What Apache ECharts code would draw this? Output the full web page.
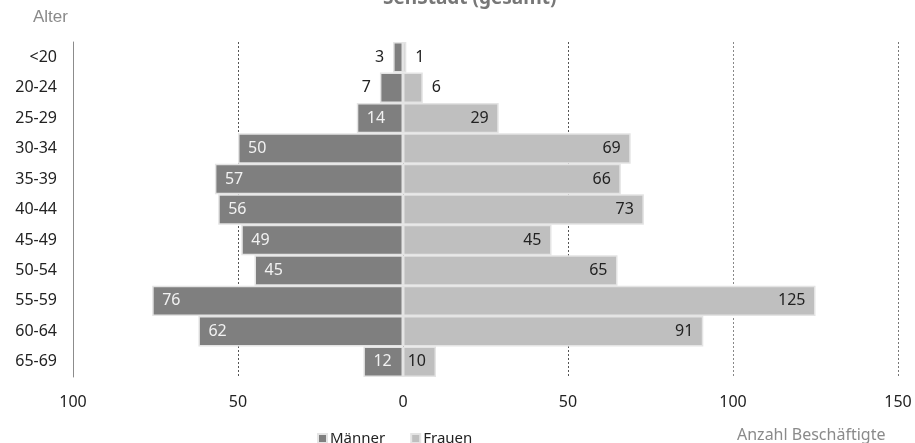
<!DOCTYPE html>
<html>
<head>
<meta charset="utf-8">
<script src="https://cdn.jsdelivr.net/npm/echarts@6/dist/echarts.min.js"></script>
<style>
  html, body { margin: 0; padding: 0; background: #fff; }
  #chart { width: 915px; height: 443px; }
</style>
</head>
<body>
<div id="chart"></div>
<script>
// Age groups of the staff, top to bottom
const ageGroups = ['<20', '20-24', '25-29', '30-34', '35-39', '40-44', '45-49', '50-54', '55-59', '60-64', '65-69'];
// Headcount per age group
const men   = [3, 7, 14, 50, 57, 56, 49, 45, 76, 62, 12];
const women = [1, 6, 29, 69, 66, 73, 45, 65, 125, 91, 10];
// Value axis ticks (men drawn to the left as negative values)
const axisMin = -100;
const axisMax = 150;
const axisStep = 50;

// Bars narrower than this value get their label outside the bar
const minInside = 9;

const font = 'Noto Sans';

function menItem(v) {
  const inside = v >= minInside;
  return {
    value: -v,
    label: inside
      ? { position: 'insideLeft', distance: 10, color: '#f2f2f2' }
      : { position: 'left', distance: 9, color: '#222' }
  };
}
function womenItem(v) {
  const inside = v >= minInside;
  return {
    value: v,
    label: inside
      ? { position: 'insideRight', distance: 10, color: '#222' }
      : { position: 'right', distance: 9, color: '#222' }
  };
}

const chart = echarts.init(document.getElementById('chart'), null, { renderer: 'canvas' });

chart.setOption({
  animation: false,
  textStyle: { fontFamily: font },
  graphic: [
    {
      type: 'text', left: 383, top: -11,
      style: { text: 'SenStadt (gesamt)', font: 'bold 19px "Noto Sans"', fill: '#777' }
    },
    {
      type: 'text', left: 33, top: 9,
      style: { text: 'Alter', font: '17px "Liberation Sans"', fill: '#8a8a8a' }
    },
    {
      type: 'text', left: 737, top: 427,
      style: { text: 'Anzahl Beschäftigte', font: '16px "Noto Sans"', fill: '#8a8a8a' }
    }
  ],
  legend: {
    left: 312,
    top: 426,
    itemWidth: 9,
    itemHeight: 9,
    itemGap: 25,
    icon: 'rect',
    textStyle: { fontSize: 15, color: '#222', fontFamily: font, padding: [0, 0, 0, -2] },
    data: ['Männer', 'Frauen']
  },
  grid: { left: 73, right: 17, top: 42, bottom: 66, containLabel: false },
  xAxis: {
    type: 'value',
    min: axisMin,
    max: axisMax,
    interval: axisStep,
    axisLine: { show: false },
    axisTick: { show: false },
    axisLabel: {
      margin: 17,
      fontSize: 16,
      color: '#222',
      formatter: v => Math.abs(v)
    },
    splitLine: {
      show: true,
      lineStyle: {
        // no dashed line at the far left, where the category axis line sits
        color: ['rgba(0,0,0,0)', '#555', '#555', '#555', '#888', '#777'],
        type: [2, 2],
        width: 1
      }
    }
  },
  yAxis: {
    type: 'category',
    data: ageGroups,
    inverse: true,
    axisLine: { show: true, onZero: false, lineStyle: { color: '#8c8c8c', width: 1 } },
    axisTick: { show: false },
    axisLabel: { margin: 16, fontSize: 16, color: '#222' },
    splitLine: { show: false }
  },
  series: [
    {
      name: 'Männer',
      type: 'bar',
      stack: 'total',
      barCategoryGap: 0,
      itemStyle: { color: '#7f7f7f', borderColor: '#e4e4e4', borderWidth: 1.5 },
      label: { show: true, fontSize: 16, formatter: p => Math.abs(p.value) },
      data: men.map(menItem)
    },
    {
      name: 'Frauen',
      type: 'bar',
      stack: 'total',
      barCategoryGap: 0,
      itemStyle: { color: '#bfbfbf', borderColor: '#e4e4e4', borderWidth: 1.5 },
      label: { show: true, fontSize: 16, formatter: p => Math.abs(p.value) },
      data: women.map(womenItem)
    }
  ]
});
</script>
</body>
</html>
